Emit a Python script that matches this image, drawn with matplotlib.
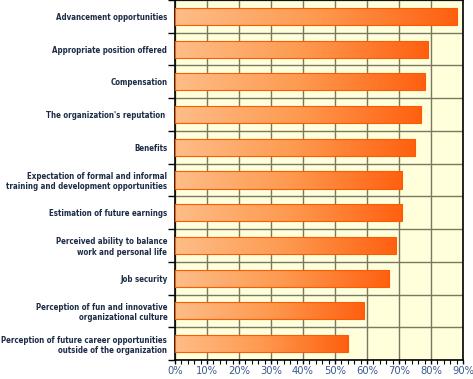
import numpy as np
import matplotlib
matplotlib.use("Agg")
import matplotlib.pyplot as plt
from matplotlib.colors import LinearSegmentedColormap
from matplotlib.ticker import MultipleLocator, FixedLocator

categories = [
    "Advancement opportunities",
    "Appropriate position offered",
    "Compensation",
    "The organization's reputation ",
    "Benefits",
    "Expectation of formal and informal\ntraining and development opportunities",
    "Estimation of future earnings",
    "Perceived ability to balance\nwork and personal life",
    "Job security",
    "Perception of fun and innovative\norganizational culture",
    "Perception of future career opportunities\noutside of the organization",
]
values = [88, 79, 78, 77, 75, 71, 71, 69, 67, 59, 54]
xticks = [0, 10, 20, 30, 40, 50, 60, 70, 80, 90]
xticklabels = [f"{t}%" for t in xticks]

fig = plt.figure(figsize=(4.73, 3.79), dpi=100)
ax = fig.add_axes([175/473, 1 - 360/379, (463-175)/473, 360/379])
ax.set_facecolor("#FFFFDC")

n = len(categories)
y = np.arange(n)
bars = ax.barh(y, values, height=0.52, facecolor="none", edgecolor="#FF5A00", linewidth=0.8, zorder=3)

cmap = LinearSegmentedColormap.from_list("g", ["#FDBD88", "#FD9A50", "#FF6010"])
grad = np.linspace(0, 1, 256).reshape(1, -1)
for b in bars:
    x0, y0 = b.get_x(), b.get_y()
    w, h = b.get_width(), b.get_height()
    im = ax.imshow(grad, cmap=cmap, aspect="auto", extent=[x0, x0 + w, y0 + h, y0],
                   zorder=2, interpolation="bilinear")
    im.set_clip_path(b)

ax.set_xlim(0, 90)
ax.set_ylim(n - 0.5, -0.5)

ax.xaxis.set_major_locator(FixedLocator(xticks))
ax.set_xticklabels(xticklabels, fontsize=7.2, color="#3A5A8C", family="DejaVu Sans")
ax.xaxis.set_minor_locator(MultipleLocator(2))
ax.yaxis.set_major_locator(FixedLocator(np.arange(-0.5, n, 1.0)))
ax.yaxis.set_minor_locator(FixedLocator(y))
ax.set_yticklabels([], minor=False)
ax.set_yticklabels(categories, minor=True, fontsize=5.7, fontweight="bold",
                   fontstretch="condensed", color="#1C2B46", family="DejaVu Sans",
                   linespacing=1.15, ha="right")
ax.tick_params(axis="y", which="minor", length=0, pad=5.5)
ax.tick_params(axis="y", which="major", length=5, width=1, color="black", direction="out")
ax.tick_params(axis="x", which="major", length=3, width=1, direction="out", pad=1)
ax.tick_params(axis="x", which="minor", length=3, width=0.8, direction="out")

ax.grid(True, which="major", color="#7A7860", linewidth=1.0, zorder=1)
ax.set_axisbelow(True)
for s in ["left", "right", "bottom", "top"]:
    ax.spines[s].set_color("black")
    ax.spines[s].set_linewidth(1.2)

fig.savefig("out.png", dpi=100, facecolor="white")
